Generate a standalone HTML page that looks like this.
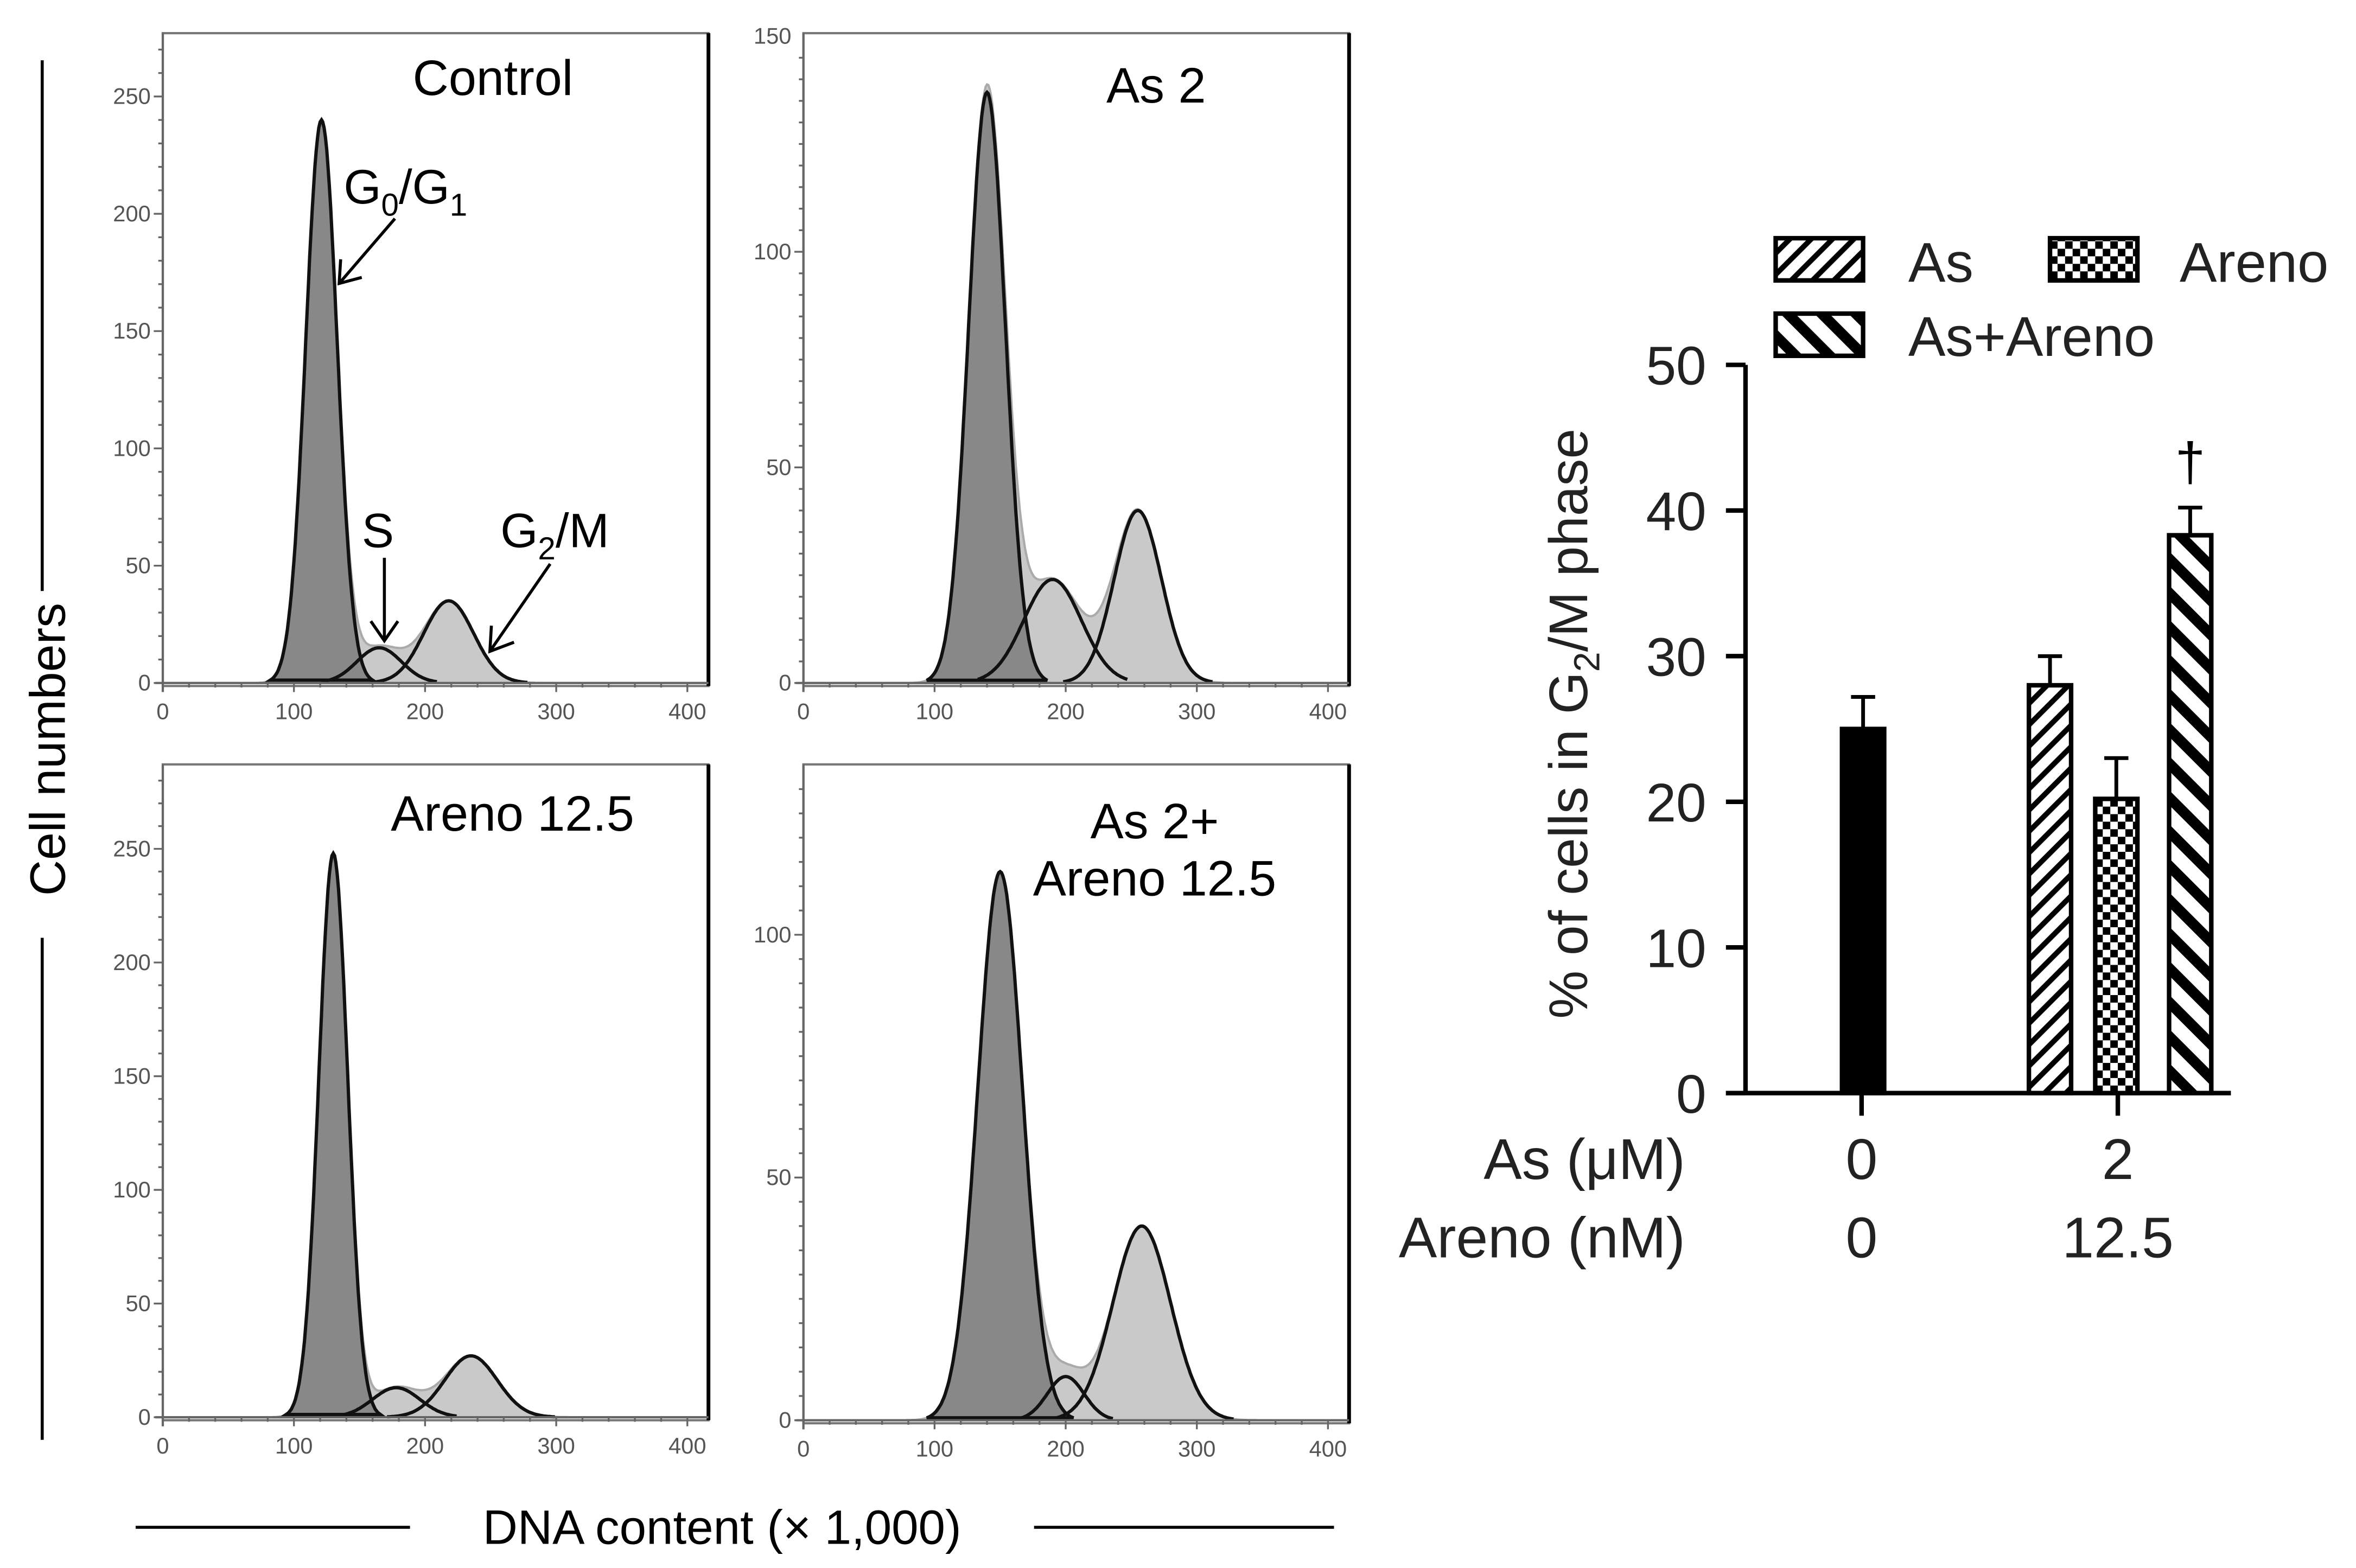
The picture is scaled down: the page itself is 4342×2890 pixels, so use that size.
<!DOCTYPE html>
<html><head><meta charset="utf-8">
<style>
html,body{margin:0;padding:0;background:#fff;}
svg{display:block;}
text{font-family:"Liberation Sans",Arial,sans-serif;}
</style></head>
<body>
<svg id="fig" width="4342" height="2890" viewBox="0 0 1563 1040" preserveAspectRatio="none" xmlns="http://www.w3.org/2000/svg">
<defs>
<pattern id="patAs" width="10" height="10" patternUnits="userSpaceOnUse" patternTransform="rotate(45)">
<rect width="10" height="10" fill="#fff"/><rect x="0" y="0" width="3.5" height="10" fill="#000"/></pattern>
<pattern id="patCombo" width="16" height="16" patternUnits="userSpaceOnUse" patternTransform="rotate(-45)">
<rect width="16" height="16" fill="#fff"/><rect x="0" y="0" width="7" height="16" fill="#000"/></pattern>
<pattern id="patAreno" width="10" height="10" patternUnits="userSpaceOnUse">
<rect width="10" height="10" fill="#fff"/><rect width="5" height="5" fill="#000"/><rect x="5" y="5" width="5" height="5" fill="#000"/></pattern>
</defs>
<g id="hists"></g>
<g id="bars"></g>

<line x1="28" y1="40" x2="28" y2="392" stroke="#000" stroke-width="2"/>
<line x1="28" y1="622" x2="28" y2="955" stroke="#000" stroke-width="2"/>
<text transform="translate(43,497) rotate(-90)" text-anchor="middle" font-size="33">Cell numbers</text>
<line x1="90" y1="1013" x2="272" y2="1013" stroke="#000" stroke-width="2"/>
<line x1="686" y1="1013" x2="885" y2="1013" stroke="#000" stroke-width="2"/>
<text x="479" y="1024" text-anchor="middle" font-size="32">DNA content (× 1,000)</text>

<text x="228" y="135" font-size="32">G<tspan font-size="21" dy="8">0</tspan><tspan dy="-8">/G</tspan><tspan font-size="21" dy="8">1</tspan></text>
<g stroke="#000" stroke-width="2" fill="none">
<line x1="262" y1="145" x2="225" y2="188"/><polyline points="226,172 225,188 240,184"/></g>
<text x="240" y="363" font-size="32">S</text>
<g stroke="#000" stroke-width="2" fill="none">
<line x1="255" y1="370" x2="255" y2="425"/><polyline points="246,412 255,425 264,412"/></g>
<text x="332" y="363" font-size="32">G<tspan font-size="21" dy="8">2</tspan><tspan dy="-8">/M</tspan></text>
<g stroke="#000" stroke-width="2" fill="none">
<line x1="365" y1="374" x2="325" y2="432"/><polyline points="326,415 325,432 341,426"/></g>
</svg>
<script>
// ---------- histogram data ----------
const panelTitles = ["Control","As 2","Areno 12.5","As 2+|Areno 12.5"];
const g1Mean = [121,140,130,150];
const g1Peak = [240,137,248,113];
const g1Sd = [12,14,11,17];
const sMean = [165,190,178,200];
const sPeak = [15,24,13,9];
const sSd = [17,22,18,14];
const g2Mean = [218,255,235,258];
const g2Peak = [35,40,27,40];
const g2Sd = [19,18,20,22];
const xTicks = [0,100,200,300,400];
const yTicksList = [[0,50,100,150,200,250],[0,50,100,150],[0,50,100,150,200,250],[0,50,100]];

// ---------- bar chart data ----------
const barLabels = ["Control","As","Areno","As+Areno"];
const barValues = [25,28,20.2,38.3];
const barErrors = [2.2,2,2.8,1.9];
const barYTicks = [0,10,20,30,40,50];

const NS="http://www.w3.org/2000/svg";
function mk(tag,attrs,parent){const e=document.createElementNS(NS,tag);for(const k in attrs)e.setAttribute(k,attrs[k]);parent.appendChild(e);return e;}

const layout = [
 {x0:108,top:22,y0:453,ymax:250,yTop:64},
 {x0:533,top:22,y0:453,ymax:150,yTop:24},
 {x0:108,top:507,y0:940,ymax:250,yTop:563},
 {x0:533,top:507,y0:942,ymax:100,yTop:620}
];
const titlePos=[[327,63],[767,68],[340,551],[766,556]];
const hg=document.getElementById('hists');
function gauss(x,m,p,s){return p*Math.exp(-0.5*((x-m)/s)**2);}
for(let i=0;i<4;i++){
 const L=layout[i];
 const xs=v=>L.x0+v*(348/400);
 const ys=c=>L.y0-c*(L.y0-L.yTop)/L.ymax;
 const g=mk('g',{},hg);
 
 
 const right=L.x0+362;
 mk('rect',{x:L.x0,y:L.top,width:362,height:L.y0+2-L.top,fill:'#fff',stroke:'#777','stroke-width':1.5},g);
 mk('line',{x1:right,y1:L.top,x2:right,y2:L.y0+2,stroke:'#000','stroke-width':2.5},g);
 const pts=[];
 for(let v=0;v<=415;v+=1){
  const a=gauss(v,g1Mean[i],g1Peak[i],g1Sd[i]),b=gauss(v,sMean[i],sPeak[i],sSd[i]),c=gauss(v,g2Mean[i],g2Peak[i],g2Sd[i]);
  pts.push([v,a,b,c]);
 }
 const sum='M'+xs(0)+','+ys(0)+' '+pts.map(p=>'L'+xs(p[0]).toFixed(1)+','+ys(p[1]+p[2]+p[3]).toFixed(1)).join(' ')+' L'+xs(415)+','+ys(0)+'Z';
 const sumPath=mk('path',{d:sum,fill:'#c9c9c9',stroke:'#aaa','stroke-width':1.5},g);
 
 
 const seg=(idx,lo,hi)=>pts.filter(p=>p[0]>=lo&&p[0]<=hi).map((p,k)=>(k?'L':'M')+xs(p[0]).toFixed(1)+','+ys(p[idx]).toFixed(1)).join(' ');
 const g1p=mk('path',{d:seg(1,g1Mean[i]-3.3*g1Sd[i],g1Mean[i]+3.3*g1Sd[i])+'Z',fill:'#888',stroke:'#111','stroke-width':2.2},g);
 
 
 const sp=mk('path',{d:seg(2,sMean[i]-2.6*sSd[i],sMean[i]+2.6*sSd[i]),fill:'none',stroke:'#111','stroke-width':2.2},g);
 
 
 const g2p=mk('path',{d:seg(3,g2Mean[i]-3.2*g2Sd[i],g2Mean[i]+3.2*g2Sd[i]),fill:'none',stroke:'#111','stroke-width':2.2},g);
 
 
 mk('line',{x1:L.x0-5,y1:L.y0,x2:right,y2:L.y0,stroke:'#666','stroke-width':1.5},g);
 mk('line',{x1:L.x0,y1:L.top,x2:L.x0,y2:L.y0+6,stroke:'#666','stroke-width':1.5},g);
 for(let v=0;v<=400;v+=20){mk('line',{x1:xs(v),y1:L.y0,x2:xs(v),y2:L.y0+(v%100?3:6),stroke:'#666','stroke-width':1.2},g);}
 xTicks.forEach(v=>{const t=mk('text',{x:xs(v),y:L.y0+24,'text-anchor':'middle','font-size':15,fill:'#555'},g);t.textContent=v;
  
  });
 const step=L.ymax>=250?10:5;
 for(let c=0;c*(L.y0-L.yTop)/L.ymax<=L.y0-L.top-4;c+=step){mk('line',{x1:L.x0-(c%50?3:6),y1:ys(c),x2:L.x0,y2:ys(c),stroke:'#666','stroke-width':1.2},g);}
 yTicksList[i].forEach(c=>{const t=mk('text',{x:L.x0-8,y:ys(c)+5,'text-anchor':'end','font-size':15,fill:'#555'},g);t.textContent=c;
  
  });
 const lines=panelTitles[i].split('|');
 lines.forEach((s,k)=>{const t=mk('text',{x:titlePos[i][0],y:titlePos[i][1]+k*38,'text-anchor':'middle','font-size':33},g);t.textContent=s;
  
  });
}

// ---------- bar chart ----------
const bg=document.getElementById('bars');
const by=v=>725-v*(725-242)/50;
const barX=[1236,1360,1404,1453];
const barW=28;
const fills=['#000','url(#patAs)','url(#patAreno)','url(#patCombo)'];
mk('line',{x1:1158,y1:242,x2:1158,y2:726,stroke:'#000','stroke-width':3},bg);
mk('line',{x1:1145,y1:725,x2:1480,y2:725,stroke:'#000','stroke-width':3},bg);
barYTicks.forEach(v=>{mk('line',{x1:1145,y1:by(v),x2:1158,y2:by(v),stroke:'#000','stroke-width':3},bg);
 const t=mk('text',{x:1132,y:by(v)+13,'text-anchor':'end','font-size':36,fill:'#222'},bg);t.textContent=v;
 
 });
[1235,1405].forEach(x=>mk('line',{x1:x,y1:725,x2:x,y2:740,stroke:'#000','stroke-width':3},bg));
barValues.forEach((v,i)=>{
 const top=by(v+barErrors[i]);
 mk('line',{x1:barX[i],y1:by(v),x2:barX[i],y2:top,stroke:'#000','stroke-width':2.5},bg);
 mk('line',{x1:barX[i]-8,y1:top,x2:barX[i]+8,y2:top,stroke:'#000','stroke-width':2.5},bg);
 const r=mk('rect',{x:barX[i]-barW/2,y:by(v),width:barW,height:725-by(v),fill:fills[i],stroke:'#000','stroke-width':3},bg);
 
 
});
const dag=mk('text',{x:barX[3],y:by(barValues[3]+barErrors[3])-18,'text-anchor':'middle','font-size':36},bg);dag.textContent='†';


const yt=mk('text',{transform:'translate(1053,480) rotate(-90)','text-anchor':'middle','font-size':36,fill:'#222'},bg);
yt.innerHTML='% of cells in G<tspan font-size="24" dy="8">2</tspan><tspan dy="-8">/M phase</tspan>';


const rowLabels=[['As (μM)',782,['0','2']],['Areno (nM)',834,['0','12.5']]];
rowLabels.forEach(r=>{const t=mk('text',{x:1118,y:r[1],'text-anchor':'end','font-size':38,fill:'#222'},bg);t.textContent=r[0];
 
 
 [1235,1405].forEach((x,k)=>{const u=mk('text',{x:x,y:r[1],'text-anchor':'middle','font-size':38,fill:'#222'},bg);u.textContent=r[2][k];
  
  });});
const legend=[['As',1178,158,fills[1],1266,187],['Areno',1360,158,fills[2],1446,187],['As+Areno',1178,208,fills[3],1266,236]];
legend.forEach(l=>{const g=mk('g',{},bg);
 
 
 mk('rect',{x:l[1],y:l[2],width:58,height:28,fill:l[3],stroke:'#000','stroke-width':3},g);
 const t=mk('text',{x:l[4],y:l[5],'font-size':37,fill:'#222'},g);t.textContent=l[0];});
</script>
</body></html>
